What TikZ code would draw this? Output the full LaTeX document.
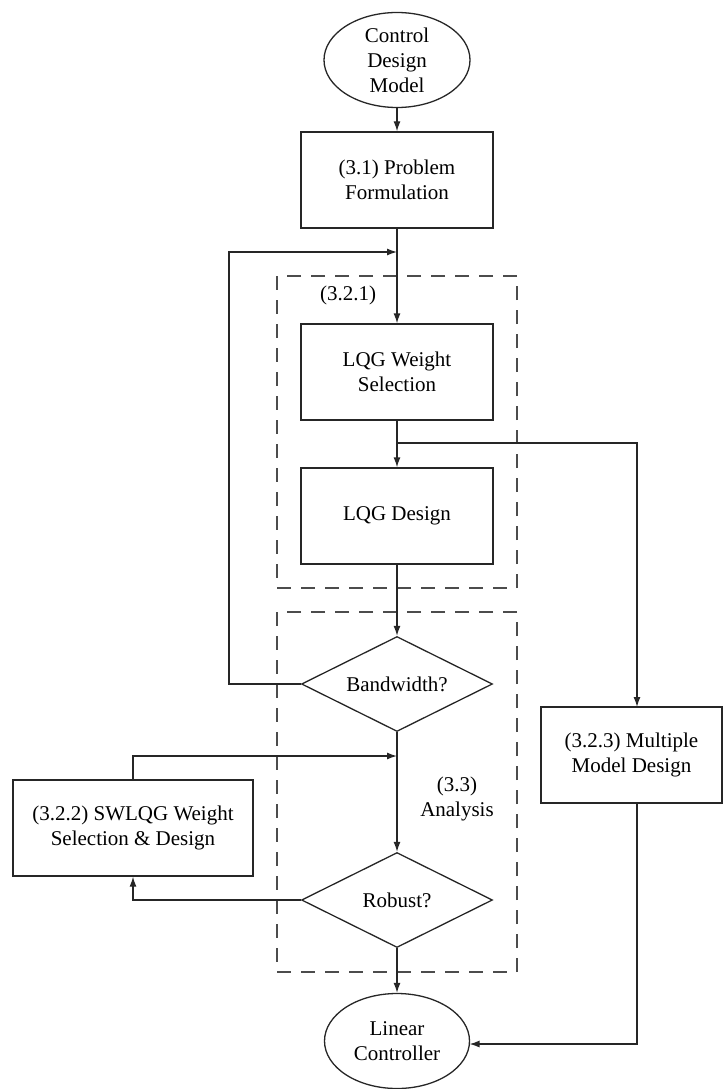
\documentclass[tikz,border=0pt]{standalone}
\usepackage{fontspec}
\setmainfont{Liberation Serif}
\usetikzlibrary{shapes.geometric,arrows.meta}
\tikzset{
  flow/.style={draw=black!85, line width=1.3pt},
  procbox/.style={flow, rectangle, minimum width=192pt, minimum height=96pt, align=center, inner sep=0pt},
  termnode/.style={flow, ellipse, minimum width=146pt, minimum height=95pt, align=center, inner sep=0pt},
  decide/.style={flow, diamond, aspect=2, minimum width=191pt, minimum height=95pt, inner sep=0pt, align=center},
  link/.style={draw=black!85, line width=1.3pt, -{Latex[length=10pt,width=7pt]}},
  plain/.style={draw=black!85, line width=1.3pt},
  group/.style={draw=black!70, line width=2pt, dash pattern=on 14pt off 10pt},
  lbl/.style={align=center, inner sep=0pt}
}
\begin{document}
\begin{tikzpicture}[x=1pt, y=-1pt, font=\fontsize{21}{25}\selectfont]
\useasboundingbox (0,0) rectangle (723,1089);

% grouping frames
\draw[group] (277,276) rectangle (517,588);
\draw[group] (277,612) rectangle (517,972);

% nodes
\node[termnode] (cdm) at (397,60) {Control\\Design\\Model};
\node[procbox] (pf) at (397,180) {(3.1) Problem\\Formulation};
\node[procbox] (lws) at (397,372) {LQG Weight\\Selection};
\node[procbox] (lqd) at (397,516) {LQG Design};
\node[decide] (bw) at (397,684) {Bandwidth?};
\node[decide] (rb) at (397,900) {Robust?};
\node[procbox, minimum width=240pt] (sw) at (133,828) {(3.2.2) SWLQG Weight\\Selection \& Design};
\node[procbox, minimum width=181pt] (mm) at (631.5,755) {(3.2.3) Multiple\\Model Design};
\node[termnode, minimum width=145pt] (lc) at (397,1041) {Linear\\Controller};

\node[lbl] (t321) at (348,295) {(3.2.1)};
\node[lbl] (t33) at (457,799) {(3.3)\\Analysis};

% junction points
\coordinate (j1) at (397,252);
\coordinate (j2) at (397,443);
\coordinate (j3) at (397,756);
\coordinate (fbx) at (229,684);
\coordinate (mmin) at (637,707);
\coordinate (mmout) at (637,803);
\coordinate (lcin) at (469.5,1044);

% connectors
\draw[link] (cdm) -- (pf);
\draw[link] (pf) -- (lws);
\draw[link] (bw.west) -- (fbx) |- (j1);
\draw[link] (lws) -- (lqd);
\draw[link] (j2) -| (mmin);
\draw[link] (lqd) -- (bw);
\draw[link] (bw) -- (rb);
\draw[link] (sw.north) |- (j3);
\draw[link] (rb.west) -| (sw.south);
\draw[link] (rb) -- (lc);
\draw[link] (mmout) |- (lcin);
\end{tikzpicture}
\end{document}
